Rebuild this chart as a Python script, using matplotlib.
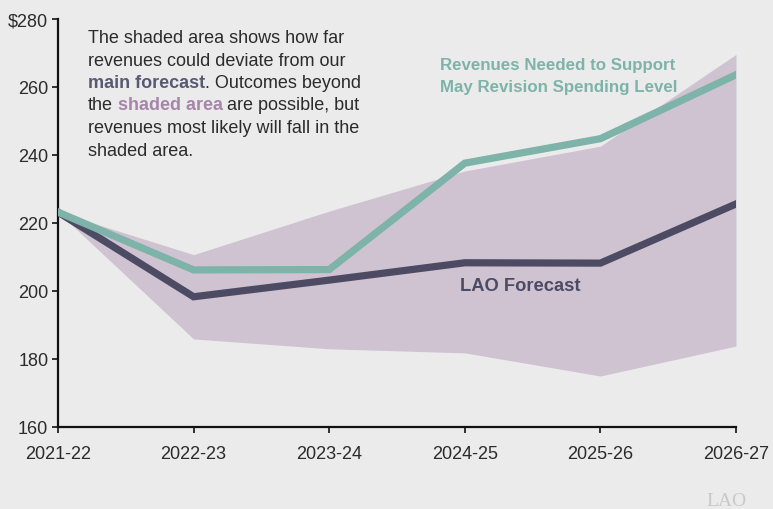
import matplotlib
matplotlib.use("Agg")
import matplotlib.pyplot as plt

years = ["2021-22", "2022-23", "2023-24", "2024-25", "2025-26", "2026-27"]
lao_forecast = [223.2, 198.3, 203.2, 208.3, 208.2, 225.6]
revenues_needed = [223.2, 206.2, 206.3, 237.6, 244.8, 263.6]
band_upper = [223.2, 210.7, 223.5, 235.3, 242.6, 269.6]
band_lower = [223.2, 185.9, 183.0, 181.8, 175.0, 183.8]
yticks = [160, 180, 200, 220, 240, 260, 280]
ytick_labels = ["160", "180", "200", "220", "240", "260", "$280"]

BG = "#ebebeb"
SHADE = "#cfc3d2"
DARK = "#4d4b63"
TEAL = "#7db3a9"
TXT = "#2b2b2b"

plt.rcParams['font.family'] = ['Liberation Sans', 'DejaVu Sans']

W, H = 773, 510
fig = plt.figure(figsize=(W / 100, H / 100), dpi=100, facecolor=BG)
ax = fig.add_axes([58 / W, 1 - 428 / H, (736 - 58) / W, (428 - 20) / H])
ax.set_facecolor(BG)

x = list(range(len(years)))
ax.fill_between(x, band_lower, band_upper, color=SHADE, lw=0, zorder=1)
ax.axvline(x[-1], color="#f3f3f3", lw=0.8, zorder=0.5)
ax.plot(x, lao_forecast, color=DARK, lw=5.2, solid_joinstyle='miter', zorder=3)
ax.plot(x, revenues_needed, color=TEAL, lw=5.2, solid_joinstyle='miter', zorder=4)

ax.set_xlim(x[0], x[-1])
ax.set_ylim(160, 280)
ax.set_xticks(x)
ax.set_xticklabels(years)
ax.set_yticks(yticks)
ax.set_yticklabels(ytick_labels)
for s in ["top", "right"]:
    ax.spines[s].set_visible(False)
for s in ["left", "bottom"]:
    ax.spines[s].set_linewidth(1.6)
    ax.spines[s].set_color("#111111")
ax.tick_params(axis='both', direction='out', length=4, width=1.2, color="#111111",
               labelsize=13, labelcolor=TXT, pad=3)
ax.tick_params(axis='x', pad=9)

# annotation paragraph
fs = 13
def px(xp, yp):
    return xp / W, 1 - yp / H

x0 = 88
baselines = [43, 65.5, 88, 110.5, 133, 155.5]
fig.text(*px(x0, baselines[0]), "The shaded area shows how far", fontsize=fs, color=TXT, va='baseline')
fig.text(*px(x0, baselines[1]), "revenues could deviate from our", fontsize=fs, color=TXT, va='baseline')
t = fig.text(*px(x0, baselines[2]), "main forecast", fontsize=fs, color="#5b5873", fontweight='bold', va='baseline')
fig.canvas.draw()
r = fig.canvas.get_renderer()
def right_px(tt):
    bb = tt.get_window_extent(r)
    return bb.x1
xr = right_px(t)
fig.text(xr / W, 1 - baselines[2] / H, ". Outcomes beyond", fontsize=fs, color=TXT, va='baseline')
t = fig.text(*px(x0, baselines[3]), "the", fontsize=fs, color=TXT, va='baseline')
fig.canvas.draw()
xr = right_px(t) + 4.6
t = fig.text(xr / W, 1 - baselines[3] / H, "shaded area", fontsize=fs, color="#a586a9", fontweight='bold', va='baseline')
fig.canvas.draw()
xr = right_px(t) + 4.6
fig.text(xr / W, 1 - baselines[3] / H, "are possible, but", fontsize=fs, color=TXT, va='baseline')
fig.text(*px(x0, baselines[4]), "revenues most likely will fall in the", fontsize=fs, color=TXT, va='baseline')
fig.text(*px(x0, baselines[5]), "shaded area.", fontsize=fs, color=TXT, va='baseline')

# series labels
fig.text(*px(440, 70), "Revenues Needed to Support", fontsize=12.2, color=TEAL, fontweight='bold', va='baseline')
fig.text(*px(440, 92), "May Revision Spending Level", fontsize=12.2, color=TEAL, fontweight='bold', va='baseline')
fig.text(*px(460, 291), "LAO Forecast", fontsize=13.2, color=DARK, fontweight='bold', va='baseline')

# logo
fig.text(*px(706, 506), "LAO", fontsize=14, color="#c9c9c9", family=['Liberation Serif', 'DejaVu Serif'], va='baseline')

fig.savefig("out.png", dpi=100, facecolor=BG)
